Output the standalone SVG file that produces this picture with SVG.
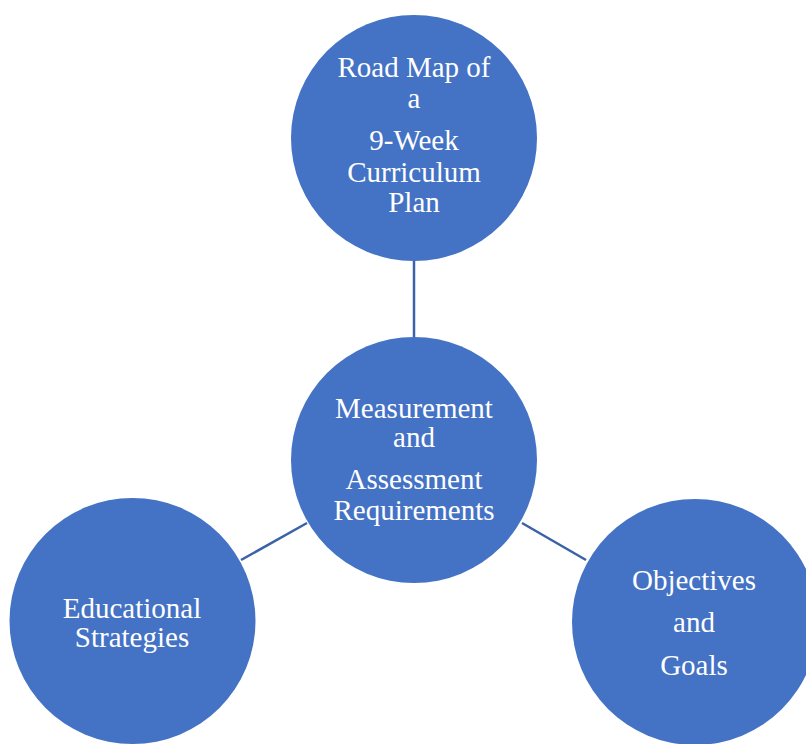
<svg xmlns="http://www.w3.org/2000/svg" width="806" height="744" viewBox="0 0 806 744">
<style>
.node{fill:#4472C4;}
.lbl{font-family:"Liberation Serif","Times New Roman",serif;font-size:29px;fill:#FFFFFF;text-anchor:middle;}
.conn{stroke:#3A62A8;stroke-width:2.5;fill:none;}
</style>
<rect width="806" height="744" fill="#FFFFFF"/>
<g id="connectors">
<line class="conn" x1="414" y1="260" x2="414" y2="338"/>
<line class="conn" x1="307" y1="523" x2="241" y2="560"/>
<line class="conn" x1="522" y1="523" x2="586" y2="560"/>
</g>
<g id="node-top">
<circle class="node" cx="414" cy="138" r="123"/>
<text class="lbl" x="414" y="77">Road Map of</text>
<text class="lbl" x="414" y="108">a</text>
<text class="lbl" x="414" y="150">9-Week</text>
<text class="lbl" x="414" y="182">Curriculum</text>
<text class="lbl" x="414" y="212">Plan</text>
</g>
<g id="node-center">
<circle class="node" cx="414" cy="460" r="123"/>
<text class="lbl" x="414" y="418">Measurement</text>
<text class="lbl" x="414" y="447">and</text>
<text class="lbl" x="414" y="489">Assessment</text>
<text class="lbl" x="414" y="520">Requirements</text>
</g>
<g id="node-left">
<circle class="node" cx="132.5" cy="621" r="123"/>
<text class="lbl" x="132" y="618">Educational</text>
<text class="lbl" x="132" y="647">Strategies</text>
</g>
<g id="node-right">
<circle class="node" cx="695" cy="622" r="123"/>
<text class="lbl" x="694" y="590">Objectives</text>
<text class="lbl" x="694" y="632">and</text>
<text class="lbl" x="694" y="675">Goals</text>
</g>
</svg>
